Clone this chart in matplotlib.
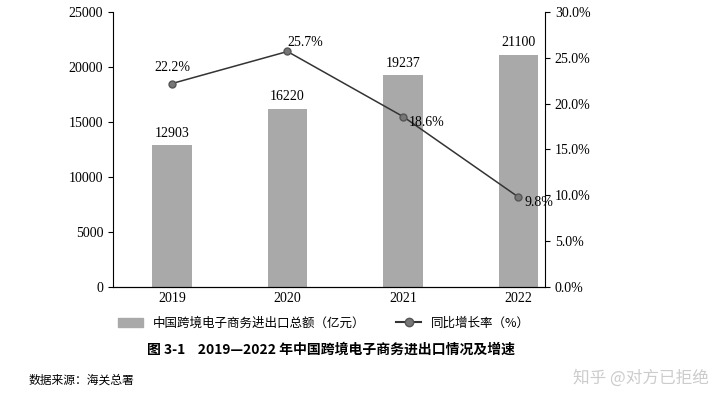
import matplotlib
matplotlib.use("Agg")
import matplotlib.pyplot as plt
from matplotlib.ticker import FuncFormatter
from matplotlib.patches import Rectangle
from matplotlib.lines import Line2D

years = ["2019", "2020", "2021", "2022"]
totals = [12903, 16220, 19237, 21100]
growth = [22.2, 25.7, 18.6, 9.8]

serif = "Liberation Serif"
cjk = "Noto Sans CJK SC"

fig = plt.figure(figsize=(7.2, 4.04), dpi=100)
ax = fig.add_axes([0.157, 0.29, 0.6, 0.68])
x = range(len(years))
ax.bar(x, totals, width=0.34, color="#a9a9a9", zorder=2)
ax.set_ylim(0, 25000)
ax.set_yticks(range(0, 25001, 5000))
ax.set_xlim(-0.51, 3.23)
ax.set_xticks(list(x))
ax.set_xticklabels(years, fontfamily=serif, fontsize=10)
for t in ax.get_yticklabels():
    t.set_fontfamily(serif); t.set_fontsize(10)
for xi, v in zip(x, totals):
    ax.text(xi, v + 500, str(v), ha="center", va="bottom", fontfamily=serif, fontsize=10)
for s in ["top", "right"]:
    ax.spines[s].set_visible(False)
ax.tick_params(axis="x", length=0)

ax2 = ax.twinx()
ax2.plot(list(x), growth, color="#333333", lw=1.1, marker="o", ms=5,
         markerfacecolor="#777777", markeredgecolor="#555555")
ax2.set_ylim(0, 30)
ax2.set_yticks(range(0, 31, 5))
ax2.yaxis.set_major_formatter(FuncFormatter(lambda v, p: f"{v:.1f}%"))
for t in ax2.get_yticklabels():
    t.set_fontfamily(serif); t.set_fontsize(10)
for s in ["top", "left"]:
    ax2.spines[s].set_visible(False)
offs = [(0, 1.0, "center"), (0.0, 0.3, "left"), (0.05, -0.6, "left"), (0.05, -0.6, "left")]
for xi, g, (dx, dy, ha) in zip(x, growth, offs):
    ax2.text(xi + dx, g + dy, f"{g}%", ha=ha, va="bottom" if dy > 0 else "center",
             fontfamily=serif, fontsize=10)

h1 = Rectangle((0, 0), 1, 1, color="#a9a9a9")
h2 = Line2D([0], [0], color="#333333", marker="o", markerfacecolor="#777777", markeredgecolor="#555555")
fig.legend([h1, h2], ["中国跨境电子商务进出口总额（亿元）", "同比增长率（%）"],
           loc="center", bbox_to_anchor=(0.45, 0.2), ncol=2, frameon=False,
           prop={"family": cjk, "size": 9}, columnspacing=2.5, handlelength=2)
fig.text(0.46, 0.135, "图 3-1    2019—2022 年中国跨境电子商务进出口情况及增速",
         ha="center", va="center", fontfamily=cjk, fontsize=10, fontweight="bold")
fig.text(0.04, 0.06, "数据来源：海关总署", ha="left", va="center", fontfamily=cjk, fontsize=8.5)
fig.text(0.985, 0.065, "知乎 @对方已拒绝", ha="right", va="center", fontfamily=cjk,
         fontsize=12, color="#cccccc")
fig.savefig("out.png", dpi=100)
